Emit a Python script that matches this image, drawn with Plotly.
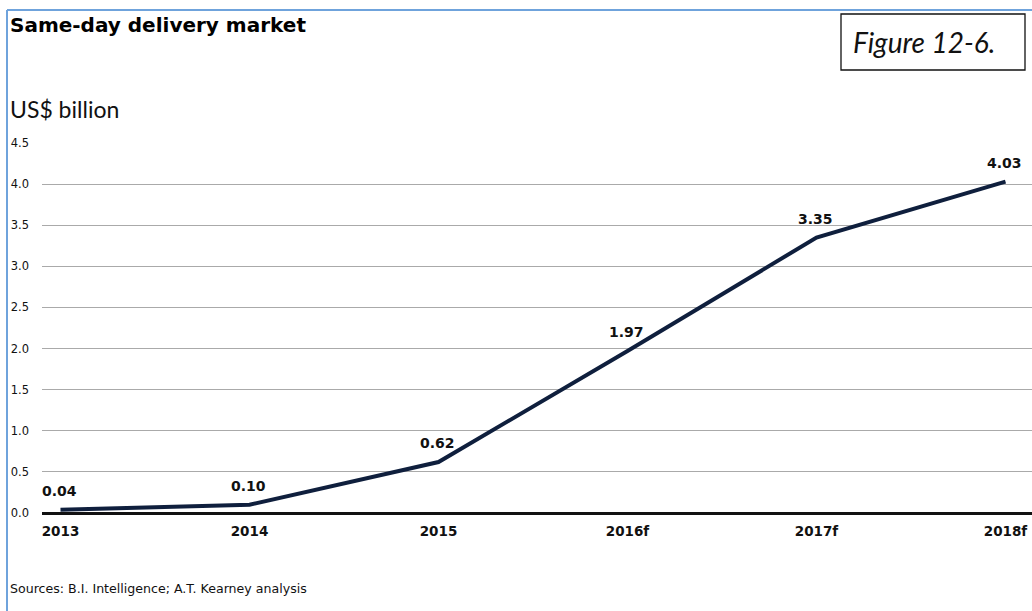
import plotly.graph_objects as go

# Same-day delivery market size, US$ billion
years = ["2013", "2014", "2015", "2016f", "2017f", "2018f"]
market_value = [0.04, 0.10, 0.62, 1.97, 3.35, 4.03]
y_ticks = [0.0, 0.5, 1.0, 1.5, 2.0, 2.5, 3.0, 3.5, 4.0, 4.5]

W, H = 1032, 611
M_L, M_R, M_T, M_B = 42, 0, 143, 98
PLOT_W = W - M_L - M_R
PLOT_H = H - M_T - M_B

# horizontal placement of the categories (first category column, step)
X0_PX, STEP_PX = 60.5, 189.0


def px_x(px):
    """Pixel column -> paper x coordinate."""
    return (px - M_L) / PLOT_W


def px_y(py):
    """Pixel row (from top) -> paper y coordinate."""
    return (H - M_B - py) / PLOT_H


x_idx = list(range(len(years)))
BOLD_FONT = "DejaVu Sans"

fig = go.Figure()
fig.add_trace(go.Scatter(
    x=x_idx,
    y=market_value,
    mode="lines",
    line=dict(color="#0f1f3d", width=4),
    hoverinfo="skip",
    showlegend=False,
))

annotations = []
for i, v in zip(x_idx, market_value):
    annotations.append(dict(
        x=i, y=v, xref="x", yref="y",
        text=f"<b>{v:.2f}</b>",
        showarrow=False, yshift=19, xshift=-1,
        font=dict(family=BOLD_FONT, size=14, color="#111111"),
    ))

annotations += [
    dict(x=px_x(8), y=px_y(25), xref="paper", yref="paper",
         xanchor="left", yanchor="middle", showarrow=False,
         text="<b>Same-day delivery market</b>",
         font=dict(family="DejaVu Sans", size=20, color="#000000")),
    dict(x=px_x(8), y=px_y(109), xref="paper", yref="paper",
         xanchor="left", yanchor="middle", showarrow=False,
         text="US$ billion",
         font=dict(family="Lato", size=23, color="#111111")),
    dict(x=px_x(8), y=px_y(588), xref="paper", yref="paper",
         xanchor="left", yanchor="middle", showarrow=False,
         text="Sources: B.I. Intelligence; A.T. Kearney analysis",
         font=dict(family="DejaVu Sans", size=12.6, color="#111111")),
    dict(x=px_x(924), y=px_y(42), xref="paper", yref="paper",
         xanchor="center", yanchor="middle", showarrow=False,
         text="<i>Figure 12-6.</i>",
         font=dict(family="Lato", size=28, color="#111111")),
]

shapes = [
    # outer frame (top and left edges)
    dict(type="line", xref="paper", yref="paper",
         x0=px_x(7), x1=px_x(W + 5), y0=px_y(10), y1=px_y(10),
         line=dict(color="#6fa3dc", width=2)),
    dict(type="line", xref="paper", yref="paper",
         x0=px_x(7), x1=px_x(7), y0=px_y(10), y1=px_y(H + 5),
         line=dict(color="#6fa3dc", width=2)),
    # figure caption box
    dict(type="rect", xref="paper", yref="paper",
         x0=px_x(841), x1=px_x(1025), y0=px_y(14), y1=px_y(70),
         line=dict(color="#111111", width=1.3), fillcolor="white"),
]

fig.update_layout(
    width=W, height=H,
    margin=dict(l=M_L, r=M_R, t=M_T, b=M_B, pad=0),
    paper_bgcolor="white",
    plot_bgcolor="white",
    annotations=annotations,
    shapes=shapes,
    xaxis=dict(
        range=[(M_L - X0_PX) / STEP_PX, (W - X0_PX) / STEP_PX],
        tickmode="array", tickvals=x_idx,
        ticktext=[f"<b>{y}</b>" for y in years],
        tickfont=dict(family=BOLD_FONT, size=13.5, color="#111111"),
        showgrid=False, zeroline=False, showline=False,
        ticks="", ticklabelstandoff=8, ticklabeloverflow="allow",
        fixedrange=True,
    ),
    yaxis=dict(
        range=[0, 4.5],
        tickmode="array", tickvals=y_ticks,
        ticktext=[f"{t:.1f}" for t in y_ticks],
        tickfont=dict(family="DejaVu Sans", size=11.5, color="#111111"),
        showgrid=True, gridcolor="#aaaaaa", gridwidth=1,
        zeroline=True, zerolinecolor="#111111", zerolinewidth=2.5,
        showline=False, ticks="", ticklabelstandoff=12,
        fixedrange=True,
    ),
)

fig.write_html("out.html", config={"displayModeBar": False})
